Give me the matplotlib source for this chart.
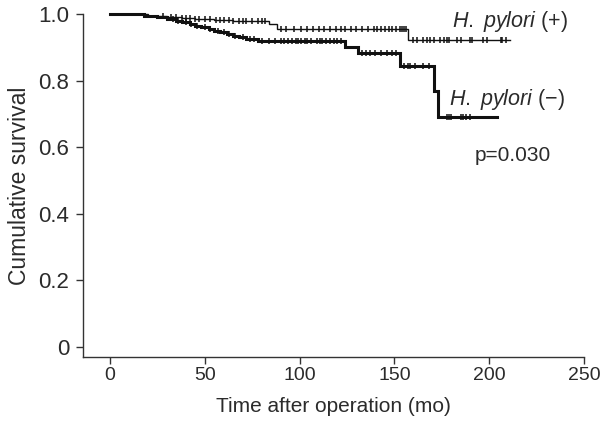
import numpy as np
import matplotlib
matplotlib.use("Agg")
import matplotlib.pyplot as plt

plt.rcParams['font.family'] = ['Liberation Sans', 'DejaVu Sans']
plt.rcParams['mathtext.fontset'] = 'custom'
plt.rcParams['mathtext.rm'] = 'Liberation Sans'
plt.rcParams['mathtext.it'] = 'Liberation Sans:italic'

# H. pylori (+) group: event times and survival after each event
pos_times = [0, 20, 30, 38, 45, 55, 65, 84, 88, 157]
pos_surv = [1.0, 0.995, 0.99, 0.987, 0.984, 0.982, 0.98, 0.97, 0.955, 0.922]
pos_end = 211
pos_censor = [28, 32, 35, 38, 40, 42, 45, 47, 50, 53, 56, 58, 60, 63, 65, 68, 70,
              72, 75, 78, 80, 82, 90, 93, 97, 101, 104, 107, 110, 113, 116, 119,
              122, 124, 127, 130, 133, 136, 139, 141, 143, 145, 147, 149, 151, 153,
              154, 155, 156, 160, 162, 165, 167, 169, 171, 174, 176, 178, 179, 183,
              185, 190, 191, 197, 199, 206, 207, 209]

# H. pylori (-) group
neg_times = [0, 18, 25, 30, 35, 38, 42, 45, 48, 52, 55, 58, 62, 65, 68, 72, 78,
             124, 131, 153, 171, 173]
neg_surv = [1.0, 0.995, 0.99, 0.985, 0.98, 0.975, 0.97, 0.965, 0.96, 0.955, 0.95,
            0.945, 0.94, 0.935, 0.93, 0.925, 0.918, 0.9, 0.884, 0.845, 0.77, 0.69]
neg_end = 204
neg_censor = [33, 36, 40, 43, 46, 50, 53, 57, 60, 63, 66, 70, 74, 76, 80, 84, 87,
              90, 92, 94, 96, 98, 99, 101, 103, 104, 106, 109, 111, 112, 114, 116,
              118, 120, 122, 133, 135, 137, 140, 143, 146, 149, 151, 155, 157, 158,
              161, 165, 168, 178, 179, 180, 185, 186, 188, 190]

x_ticks = [0, 50, 100, 150, 200, 250]
y_ticks = [0, 0.2, 0.4, 0.6, 0.8, 1.0]
y_ticklabels = ['0', '0.2', '0.4', '0.6', '0.8', '1.0']

TXT = '#2b2b2b'

fig = plt.figure(figsize=(6.08, 4.37), dpi=100)
ax = fig.add_axes([83/608, 1 - 357/437, (584 - 83)/608, (357 - 14)/437])


def km_draw(times, surv, end, censor, lw, ms):
    t = list(times) + [end]
    s = list(surv) + [surv[-1]]
    ax.step(t, s, where='post', color='#111111', lw=lw, clip_on=False,
            solid_joinstyle='miter')
    idx = np.searchsorted(times, censor, side='right') - 1
    cs = np.array(surv)[idx]
    ax.plot(censor, cs, linestyle='none', marker='|', color='#111111',
            markersize=ms, markeredgewidth=1.1, clip_on=False)


km_draw(pos_times, pos_surv, pos_end, pos_censor, 1.0, 5)
km_draw(neg_times, neg_surv, neg_end, neg_censor, 2.2, 5)

ax.set_xlim(-14.2, 250)
ax.set_ylim(-0.03, 1.0)
ax.set_xticks(x_ticks)
ax.set_xticklabels([str(v) for v in x_ticks])
ax.set_yticks(y_ticks)
ax.set_yticklabels(y_ticklabels)
for s in ['top', 'right']:
    ax.spines[s].set_visible(False)
for s in ['left', 'bottom']:
    ax.spines[s].set_color('#333333')
    ax.spines[s].set_linewidth(1.0)
ax.tick_params(axis='both', direction='out', length=5, width=1.0,
               colors='#333333', labelcolor=TXT)
ax.tick_params(axis='x', pad=2.5, labelsize=14)
ax.tick_params(axis='y', pad=5, labelsize=16)
ax.set_xlabel('Time after operation (mo)', fontsize=15, color=TXT, labelpad=9)
ax.set_ylabel('Cumulative survival', fontsize=16.5, color=TXT, labelpad=5)

ax.text(568/608, 1 - 22/437, r'$\it{H.\ pylori}$ (+)', transform=fig.transFigure,
        ha='right', va='center', fontsize=15.5, color=TXT)
ax.text(565/608, 1 - 100/437, r'$\it{H.\ pylori}$ (−)', transform=fig.transFigure,
        ha='right', va='center', fontsize=15.5, color=TXT)
ax.text(513/608, 1 - 155/437, 'p=0.030', transform=fig.transFigure,
        ha='center', va='center', fontsize=15, color=TXT)

fig.savefig('out.png', dpi=100)
